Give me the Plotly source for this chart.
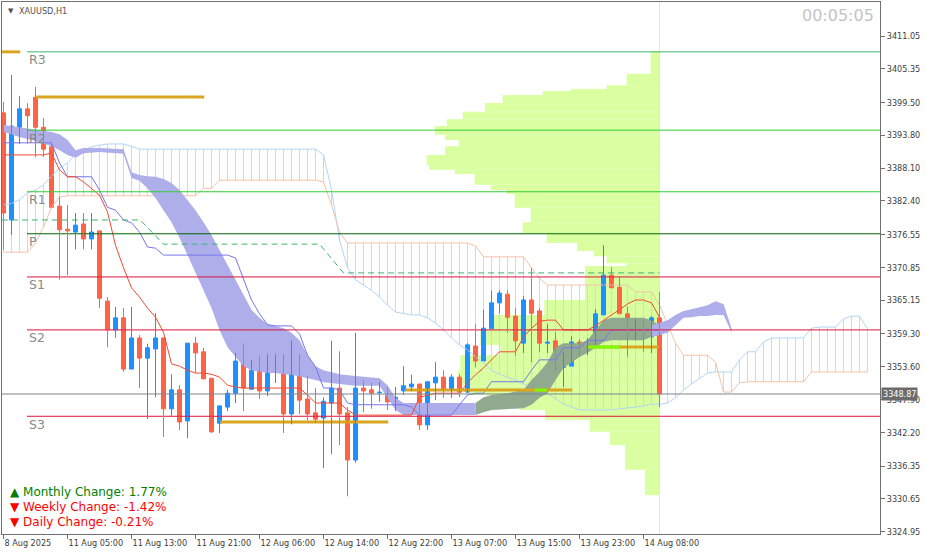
import plotly.graph_objects as go

# ---------------- data ----------------
x_tick_pos = [0, 8, 16, 24, 32, 40, 48, 56, 64, 72, 80]
x_tick_text = ["8 Aug 2025", "11 Aug 05:00", "11 Aug 13:00", "11 Aug 21:00", "12 Aug 06:00",
               "12 Aug 14:00", "12 Aug 22:00", "13 Aug 07:00", "13 Aug 15:00", "13 Aug 23:00",
               "14 Aug 08:00"]
y_ticks = [3411.05, 3405.35, 3399.50, 3393.80, 3388.10, 3382.40, 3376.55, 3370.85, 3365.15,
           3359.30, 3353.60, 3347.90, 3342.20, 3336.35, 3330.65, 3324.95]

opens = [3397.7, 3379.1, 3395.2, 3398.4, 3400.4, 3395.2, 3391.8, 3381.5, 3377.5, 3377.0,
         3378.4, 3375.8, 3377.2, 3365.0, 3360.0, 3362.1, 3353.2, 3358.6, 3355.1, 3356.7,
         3358.6, 3346.3, 3349.6, 3344.2, 3357.7, 3356.2, 3351.6, 3343.8, 3346.6, 3349.0,
         3354.6, 3349.7, 3353.0, 3349.4, 3354.4, 3354.6, 3345.4, 3355.6, 3348.0, 3345.6,
         3344.7, 3347.3, 3349.9, 3345.6, 3337.4, 3349.9, 3349.6, 3349.1, 3349.0, 3347.5,
         3349.4, 3350.1, 3350.6, 3343.5, 3350.8, 3351.8, 3349.7, 3351.8, 3349.2, 3357.2,
         3354.6, 3360.2, 3364.7, 3366.2, 3362.4, 3357.7, 3365.2, 3363.3, 3357.7, 3358.1,
         3353.5, 3353.7, 3357.9, 3356.9, 3357.5, 3362.6, 3369.5, 3367.4, 3362.8, 3360.4,
         3360.5, 3358.8, 3362.1]
highs = [3399.6, 3404.3, 3400.6, 3399.4, 3402.2, 3396.8, 3392.5, 3383.1, 3381.7, 3380.3,
         3380.3, 3380.3, 3377.2, 3365.7, 3364.0, 3363.8, 3364.0, 3359.1, 3357.6, 3362.9,
         3358.6, 3352.3, 3350.4, 3357.7, 3358.8, 3356.9, 3351.6, 3346.8, 3349.6, 3356.0,
         3357.6, 3354.8, 3355.5, 3355.8, 3355.8, 3355.8, 3358.2, 3355.8, 3352.0, 3349.9,
         3348.3, 3358.1, 3356.3, 3346.6, 3359.5, 3351.3, 3350.8, 3351.0, 3350.1, 3350.1,
         3353.7, 3352.2, 3350.6, 3351.0, 3354.4, 3353.0, 3352.3, 3352.3, 3357.7, 3361.0,
         3363.5, 3366.8, 3366.9, 3366.9, 3363.8, 3365.9, 3370.7, 3363.8, 3361.0, 3359.6,
         3356.2, 3358.9, 3358.4, 3358.6, 3363.6, 3374.7, 3370.9, 3369.2, 3364.0, 3361.9,
         3361.7, 3362.4, 3366.6]
lows = [3373.9, 3376.5, 3392.3, 3392.3, 3390.0, 3390.0, 3381.3, 3368.7, 3369.5, 3374.0,
        3374.0, 3374.0, 3363.8, 3357.0, 3358.6, 3352.7, 3353.2, 3349.9, 3344.5, 3348.3,
        3341.4, 3344.9, 3342.6, 3341.2, 3352.5, 3351.5, 3342.1, 3342.1, 3345.9, 3347.3,
        3345.9, 3349.7, 3348.0, 3348.5, 3350.8, 3342.1, 3343.6, 3345.4, 3344.3, 3343.8,
        3336.0, 3338.4, 3340.0, 3331.1, 3336.9, 3345.7, 3346.3, 3347.5, 3346.1, 3345.9,
        3348.7, 3349.4, 3342.6, 3342.6, 3347.8, 3348.2, 3348.2, 3348.3, 3349.0, 3353.5,
        3354.6, 3360.2, 3362.9, 3359.5, 3355.5, 3356.0, 3354.4, 3356.2, 3356.0, 3353.0,
        3350.1, 3353.7, 3355.5, 3355.6, 3357.5, 3362.6, 3367.3, 3362.8, 3355.3, 3358.2,
        3356.2, 3356.0, 3346.6]
closes = [3380.3, 3395.4, 3398.4, 3397.2, 3395.2, 3391.4, 3381.3, 3377.4, 3377.2, 3378.2,
          3375.8, 3377.0, 3365.5, 3360.0, 3362.1, 3353.2, 3358.6, 3355.1, 3356.9, 3358.6,
          3346.3, 3349.6, 3344.0, 3357.7, 3356.0, 3351.5, 3342.3, 3346.8, 3349.0, 3354.6,
          3349.9, 3353.0, 3349.4, 3354.4, 3354.6, 3345.4, 3355.6, 3347.8, 3345.4, 3344.5,
          3347.6, 3349.9, 3345.4, 3337.4, 3349.9, 3349.4, 3349.0, 3349.2, 3347.5, 3348.3,
          3350.3, 3350.6, 3343.5, 3351.0, 3351.8, 3349.7, 3351.8, 3349.2, 3357.4, 3354.6,
          3360.3, 3364.7, 3366.4, 3362.2, 3358.1, 3365.2, 3362.9, 3357.7, 3357.9, 3353.5,
          3353.9, 3357.9, 3356.0, 3357.5, 3362.8, 3369.5, 3367.3, 3362.8, 3360.3, 3360.5,
          3358.8, 3362.1, 3348.87]

tenkan = [3390.4, 3390.4, 3390.4, 3390.4, 3390.4, 3390.4, 3390.7, 3387.8, 3386.6, 3386.6,
          3385.7, 3384.6, 3383.4, 3380.5, 3374.7, 3370.8, 3367.3, 3365.7, 3363.8, 3362.2,
          3359.6, 3354.1, 3353.7, 3353.0, 3352.5, 3352.5, 3352.3, 3351.8, 3350.4, 3350.1,
          3349.9, 3349.9, 3349.9, 3349.9, 3349.9, 3349.9, 3349.9, 3349.9, 3348.7, 3347.3,
          3347.3, 3347.3, 3347.3, 3346.1, 3345.2, 3345.2, 3345.2, 3345.2, 3345.2, 3345.2,
          3345.2, 3345.2, 3348.3, 3348.7, 3349.0, 3349.0, 3349.0, 3349.0, 3350.8, 3352.2,
          3353.4, 3354.8, 3356.2, 3356.2, 3356.2, 3358.8, 3360.3, 3361.5, 3361.7, 3361.7,
          3360.0, 3360.0, 3360.0, 3360.0, 3360.7, 3361.7, 3362.6, 3363.5, 3364.5, 3365.2,
          3365.2, 3364.7, 3362.2]
kijun = [3392.5, 3392.5, 3392.5, 3392.5, 3392.5, 3392.5, 3392.5, 3389.0, 3386.6, 3386.6,
         3386.6, 3386.6, 3384.3, 3381.3, 3380.8, 3379.1, 3378.6, 3377.0, 3374.4, 3374.2,
         3373.0, 3373.0, 3373.0, 3373.0, 3373.0, 3373.0, 3373.0, 3373.0, 3373.0, 3372.5,
         3369.0, 3365.2, 3362.8, 3360.9, 3360.7, 3360.7, 3360.7, 3359.3, 3355.6, 3353.6,
         3349.9, 3349.9, 3349.6, 3347.3, 3347.0, 3347.0, 3347.0, 3347.0, 3347.0, 3347.0,
         3347.0, 3346.6, 3345.2, 3345.2, 3345.2, 3345.2, 3345.2, 3347.0, 3348.7, 3349.0,
         3349.0, 3351.0, 3351.0, 3351.0, 3351.0, 3351.0, 3353.0, 3354.8, 3354.8, 3354.8,
         3356.9, 3356.9, 3356.9, 3358.2, 3358.2, 3358.2, 3360.0, 3360.0, 3360.0, 3360.0,
         3360.0, 3360.0, 3360.0]
senkou_a = [3381.7, 3382.0, 3382.6, 3383.8, 3384.3, 3385.2, 3386.7, 3388.1, 3389.0, 3390.4,
            3391.2, 3391.8, 3392.1, 3392.3, 3392.3, 3392.3, 3391.9, 3391.4, 3391.4, 3391.4,
            3391.4, 3391.4, 3391.4, 3391.4, 3391.4, 3391.4, 3391.4, 3391.4, 3391.4, 3391.4,
            3391.4, 3391.4, 3391.4, 3391.4, 3391.4, 3391.4, 3391.4, 3391.4, 3391.4, 3391.4,
            3390.4, 3384.3, 3375.6, 3370.8, 3368.7, 3367.8, 3366.9, 3365.7, 3364.3, 3363.1,
            3362.8, 3362.6, 3362.6, 3362.1, 3361.2, 3360.0, 3358.6, 3357.4, 3356.5, 3355.3,
            3354.3, 3353.0, 3352.3, 3351.8, 3351.3, 3350.6, 3350.1, 3349.7, 3349.0, 3348.0,
            3347.1, 3346.6, 3346.1, 3346.1, 3346.1, 3346.1, 3346.1, 3346.3, 3346.4, 3346.6,
            3346.8, 3347.1, 3347.1, 3347.3, 3348.2, 3349.6, 3350.6, 3351.6, 3352.5, 3352.7,
            3352.7, 3352.7, 3354.8, 3356.2, 3356.2, 3357.9, 3358.6, 3358.6, 3358.6, 3358.6,
            3358.6, 3360.3, 3360.5, 3360.5, 3360.5, 3361.9, 3362.4, 3362.4, 3360.2]
senkou_b = [3373.5, 3373.5, 3373.5, 3373.5, 3375.1, 3377.9, 3381.3, 3383.1, 3383.3, 3383.3,
            3383.3, 3383.3, 3383.3, 3383.3, 3383.3, 3383.3, 3383.3, 3383.3, 3383.3, 3383.3,
            3383.3, 3383.3, 3383.3, 3383.3, 3383.3, 3384.6, 3384.6, 3386.0, 3386.0, 3386.0,
            3386.0, 3386.0, 3386.0, 3386.0, 3386.0, 3386.0, 3386.0, 3386.0, 3386.0, 3386.0,
            3385.7, 3381.7, 3377.0, 3375.1, 3375.1, 3375.1, 3375.1, 3375.1, 3375.1, 3375.1,
            3375.1, 3375.1, 3375.1, 3375.1, 3375.1, 3375.1, 3375.1, 3375.1, 3375.1, 3374.6,
            3372.7, 3372.7, 3372.7, 3372.7, 3372.7, 3372.7, 3370.8, 3369.0, 3367.8, 3367.8,
            3367.8, 3367.8, 3367.8, 3367.8, 3367.8, 3367.8, 3367.8, 3367.8, 3367.8, 3366.6,
            3366.6, 3366.6, 3364.3, 3360.9, 3357.7, 3355.6, 3355.6, 3355.6, 3355.6, 3354.4,
            3349.2, 3349.2, 3350.8, 3351.0, 3351.0, 3351.0, 3351.0, 3351.0, 3351.0, 3351.0,
            3351.0, 3352.7, 3352.7, 3352.7, 3352.7, 3352.7, 3352.7, 3352.7, 3352.7]

# lavender band (left part)
band1_k = [0, 2, 4, 6, 7, 8, 9, 10, 12, 15, 16, 17, 18, 19, 20, 21, 22, 23, 24, 25, 26, 27,
           28, 29, 30, 31, 32, 33, 34, 35, 36, 37, 38, 39, 40, 42, 44, 47, 48, 49, 50, 59]
band1_hi = [3395.6, 3395.2, 3394.9, 3394.4, 3394.0, 3393.0, 3391.2, 3391.6, 3391.6, 3391.4,
            3387.4, 3386.9, 3386.7, 3386.6, 3386.2, 3385.5, 3384.3, 3382.6, 3380.8, 3378.7,
            3376.5, 3373.9, 3371.3, 3368.7, 3366.1, 3363.5, 3362.1, 3361.0, 3360.7, 3360.3,
            3359.5, 3358.2, 3355.6, 3353.7, 3353.0, 3352.3, 3352.0, 3351.6, 3350.4, 3348.2,
            3347.3, 3347.3]
band1_lo = [3394.4, 3393.5, 3392.8, 3391.9, 3391.2, 3390.4, 3389.9, 3390.7, 3390.9, 3390.6,
            3386.4, 3385.9, 3384.6, 3382.9, 3380.8, 3378.7, 3376.0, 3373.0, 3370.1, 3366.9,
            3363.8, 3360.0, 3357.0, 3355.3, 3353.7, 3353.0, 3352.7, 3352.5, 3352.5, 3352.3,
            3352.2, 3352.0, 3351.6, 3351.3, 3350.9, 3350.6, 3350.3, 3350.3, 3348.2, 3346.1,
            3345.2, 3345.2]
# grey-green band
band2_k = [59, 60, 61, 63, 65, 66, 67, 68, 69, 70, 72, 73, 74, 75, 76, 80, 81, 82]
band2_hi = [3347.3, 3348.3, 3348.7, 3349.0, 3349.6, 3351.3, 3352.7, 3354.4, 3357.0, 3357.7,
            3357.7, 3358.2, 3360.0, 3361.7, 3362.1, 3362.1, 3361.7, 3360.8]
band2_lo = [3345.2, 3345.7, 3346.1, 3346.3, 3346.4, 3347.0, 3348.2, 3349.0, 3351.3, 3353.4,
            3355.3, 3356.0, 3357.0, 3357.9, 3358.2, 3358.2, 3358.8, 3359.1]
# lavender band (right part)
band3_k = [81, 82, 83, 84, 85, 86, 87, 88, 89, 90, 91]
band3_hi = [3360.8, 3361.2, 3361.7, 3362.6, 3363.3, 3363.6, 3364.0, 3364.3, 3365.0, 3364.5, 3360.3]
band3_lo = [3358.8, 3359.1, 3359.5, 3360.8, 3362.1, 3362.2, 3362.4, 3362.4, 3362.6, 3362.6, 3359.6]

# volume profile: price edges (top to bottom) and row lengths (in bars)
vp_edges = [3408.4, 3404.5, 3402.5, 3401.8, 3401.5, 3400.8, 3399.4, 3397.9, 3396.6, 3395.4,
            3393.9, 3393.0, 3391.9, 3390.4, 3388.6, 3387.8, 3387.1, 3385.2, 3384.3, 3383.6,
            3381.2, 3378.7, 3376.8, 3375.1, 3373.7, 3372.8, 3371.6, 3371.1, 3365.2, 3362.6,
            3360.0, 3357.4, 3355.6, 3353.0, 3350.4, 3348.7, 3346.1, 3344.4, 3342.3, 3340.0,
            3335.7, 3331.3]
vp_len = [1.1, 4.1, 6.6, 11.1, 14.6, 19.6, 21.8, 24.6, 26.6, 28.1,
          26.8, 25.1, 26.8, 29.1, 28.8, 25.6, 23.1, 21.1, 19.1, 18.1,
          16.1, 17.1, 14.1, 10.3, 8.2, 6.6, 4.1, 9.3, 14.4, 21.2,
          22.4, 19.9, 24.9, 25.2, 23.7, 17.4, 14.3, 8.7, 6.2, 4.3, 1.8]

pivot_names = ["R3", "R2", "R1", "P", "S1", "S2", "S3"]
pivot_levels = [3408.3, 3394.7, 3384.0, 3376.7, 3369.2, 3360.0, 3345.0]
pivot_colors = ["#3CB371", "#32CD32", "#32CD32", "#006400", "#DC143C", "#DC143C", "#DC143C"]

gold_x0 = [-0.2, 4.1, 27.1, 50.2, 73.0]
gold_x1 = [2.1, 25.1, 48.1, 71.1, 81.9]
gold_lvl = [3408.3, 3400.45, 3344.0, 3349.56, 3357.03]
lime_x0 = [66.4, 73.1]
lime_x1 = [67.9, 77.1]
lime_lvl = [3349.56, 3357.03]

dash_k = [-0.2, 17.1, 19.5, 20.0, 39.5, 42.5, 82.0]
dash_v = [3379.1, 3379.1, 3375.6, 3374.9, 3374.9, 3369.9, 3369.9]

bid = 3348.87
last_bar = 82
changes = [("▲ Monthly Change: 1.77%", "#008000"),
           ("▼ Weekly Change: -1.42%", "#FF0000"),
           ("▼ Daily Change: -0.21%", "#FF0000")]

# ---------------- figure ----------------
X0, X1 = -0.1875, 109.5625
Y0, Y1 = 3324.55, 3416.96
fig = go.Figure()

# volume profile
vp_c = [(vp_edges[i] + vp_edges[i + 1]) / 2 for i in range(len(vp_len))]
vp_h = [vp_edges[i] - vp_edges[i + 1] for i in range(len(vp_len))]
fig.add_trace(go.Bar(orientation="h", y=vp_c, x=vp_len, base=[last_bar - v for v in vp_len],
                     width=vp_h, marker=dict(color="#D9FFA1", line=dict(width=0)),
                     hoverinfo="skip"))

# ichimoku cloud hatches
hb_x, hb_y, hp_x, hp_y = [], [], [], []
for k, (a, b) in enumerate(zip(senkou_a, senkou_b)):
    if a >= b:
        hb_x += [k, k, None]; hb_y += [a, b, None]
    else:
        hp_x += [k, k, None]; hp_y += [a, b, None]
fig.add_trace(go.Scatter(x=hb_x, y=hb_y, mode="lines", line=dict(color="#BCDCF8", width=1),
                         hoverinfo="skip"))
fig.add_trace(go.Scatter(x=hp_x, y=hp_y, mode="lines", line=dict(color="#F4CDBA", width=1),
                         hoverinfo="skip"))
ks = list(range(len(senkou_a)))
fig.add_trace(go.Scatter(x=ks, y=senkou_a, mode="lines", line=dict(color="#B3D5F5", width=1),
                         hoverinfo="skip"))
fig.add_trace(go.Scatter(x=ks, y=senkou_b, mode="lines", line=dict(color="#F2C2AA", width=1),
                         hoverinfo="skip"))


def band(kk, hi, lo, color):
    fig.add_trace(go.Scatter(x=kk + kk[::-1], y=hi + lo[::-1], fill="toself", fillcolor=color,
                             mode="lines", line=dict(width=0, color=color), hoverinfo="skip"))


band(band1_k, band1_hi, band1_lo, "#AEAEEB")
band(band2_k, band2_hi, band2_lo, "#8FAA8F")
band(band3_k, band3_hi, band3_lo, "#AEAEEB")

kb = list(range(len(tenkan)))
fig.add_trace(go.Scatter(x=kb, y=kijun, mode="lines", line=dict(color="#7676EC", width=1),
                         hoverinfo="skip"))
fig.add_trace(go.Scatter(x=kb, y=tenkan, mode="lines", line=dict(color="#F04A30", width=1),
                         hoverinfo="skip"))

# pivots
for name, lv, col in zip(pivot_names, pivot_levels, pivot_colors):
    fig.add_trace(go.Scatter(x=[2.94, X1], y=[lv, lv], mode="lines",
                             line=dict(color=col, width=1), hoverinfo="skip"))
    fig.add_annotation(x=2.94, y=lv, text=name, showarrow=False, xanchor="left",
                       yanchor="middle", yshift=-8,
                       font=dict(family="DejaVu Sans", size=12.5, color="#8A8A8A"))

fig.add_trace(go.Scatter(x=dash_k, y=dash_v, mode="lines",
                         line=dict(color="#3CB371", width=1, dash="6px,4px"), hoverinfo="skip"))

for a, b, v in zip(gold_x0, gold_x1, gold_lvl):
    fig.add_trace(go.Scatter(x=[a, b], y=[v, v], mode="lines",
                             line=dict(color="#DAA520", width=3), hoverinfo="skip"))
for a, b, v in zip(lime_x0, lime_x1, lime_lvl):
    fig.add_trace(go.Scatter(x=[a, b], y=[v, v], mode="lines",
                             line=dict(color="#7CFC00", width=3), hoverinfo="skip"))

fig.add_trace(go.Scatter(x=[X0, X1], y=[bid, bid], mode="lines",
                         line=dict(color="#7C8690", width=1), hoverinfo="skip"))

# candles
up = [i for i in range(len(opens)) if closes[i] >= opens[i]]
dn = [i for i in range(len(opens)) if closes[i] < opens[i]]
for idx, col in ((up, "#1E90FF"), (dn, "#FF6347")):
    wx, wy = [], []
    for i in idx:
        wx += [i, i, None]; wy += [lows[i], highs[i], None]
    fig.add_trace(go.Scatter(x=wx, y=wy, mode="lines", line=dict(color=col, width=1),
                             hoverinfo="skip"))
    fig.add_trace(go.Bar(x=idx, base=[min(opens[i], closes[i]) for i in idx],
                         y=[max(abs(closes[i] - opens[i]), 0.05) for i in idx], width=0.5,
                         marker=dict(color=col, line=dict(color=col, width=1)),
                         hoverinfo="skip"))

fig.add_shape(type="line", xref="x", yref="paper", x0=last_bar, x1=last_bar, y0=0, y1=1,
              line=dict(color="#E4E4E4", width=1), layer="below")

# texts
fig.add_annotation(xref="paper", yref="paper", x=(6 - 2) / 878, y=(534 - 11) / 532, text="▼",
                   showarrow=False, xanchor="left", yanchor="middle",
                   font=dict(family="DejaVu Sans", size=7, color="#505050"))
fig.add_annotation(xref="paper", yref="paper", x=(17 - 2) / 878, y=(534 - 11) / 532,
                   text="XAUUSD,H1", showarrow=False, xanchor="left", yanchor="middle",
                   font=dict(family="DejaVu Sans Condensed, DejaVu Sans", size=9, color="#505050"))
fig.add_annotation(xref="paper", yref="paper", x=(876 - 2) / 878, y=(534 - 15) / 532,
                   text="00:05:05", showarrow=False, xanchor="right", yanchor="middle",
                   font=dict(family="DejaVu Sans", size=16, color="#C4C4C4"))
for (txt, col), py in zip(changes, [492, 507, 522]):
    fig.add_annotation(xref="paper", yref="paper", x=(8 - 2) / 878, y=(534 - py) / 532,
                       text=txt, showarrow=False, xanchor="left", yanchor="middle",
                       font=dict(family="DejaVu Sans", size=12, color=col))
fig.add_annotation(xref="paper", yref="y", x=1, y=bid, text=str(bid), showarrow=False,
                   xanchor="left", yanchor="middle", xshift=1, bgcolor="#6B6B6B", borderpad=1,
                   font=dict(family="DejaVu Sans Condensed, DejaVu Sans", size=9, color="white"))

axis_font = dict(family="DejaVu Sans Condensed, DejaVu Sans", size=9, color="#404040")
fig.update_layout(
    width=926, height=555, margin=dict(l=2, r=46, t=2, b=21),
    plot_bgcolor="white", paper_bgcolor="white", showlegend=False, barmode="overlay",
    xaxis=dict(range=[X0, X1], showgrid=False, zeroline=False, tickmode="array",
               tickvals=x_tick_pos, ticktext=x_tick_text, ticks="outside", ticklen=4,
               tickcolor="#707070", showline=True, linecolor="#707070", mirror=True,
               ticklabelposition="outside right", tickfont=axis_font),
    yaxis=dict(range=[Y0, Y1], side="right", showgrid=False, zeroline=False, tickmode="array",
               tickvals=y_ticks, ticktext=[f"{v:.2f}" for v in y_ticks], ticks="outside",
               ticklen=4, tickcolor="#707070", showline=True, linecolor="#707070", mirror=True,
               tickfont=axis_font),
)
fig.write_html("out.html", config={"displayModeBar": False},
               post_script="document.body.style.margin='0px';document.body.style.overflow='hidden';")
